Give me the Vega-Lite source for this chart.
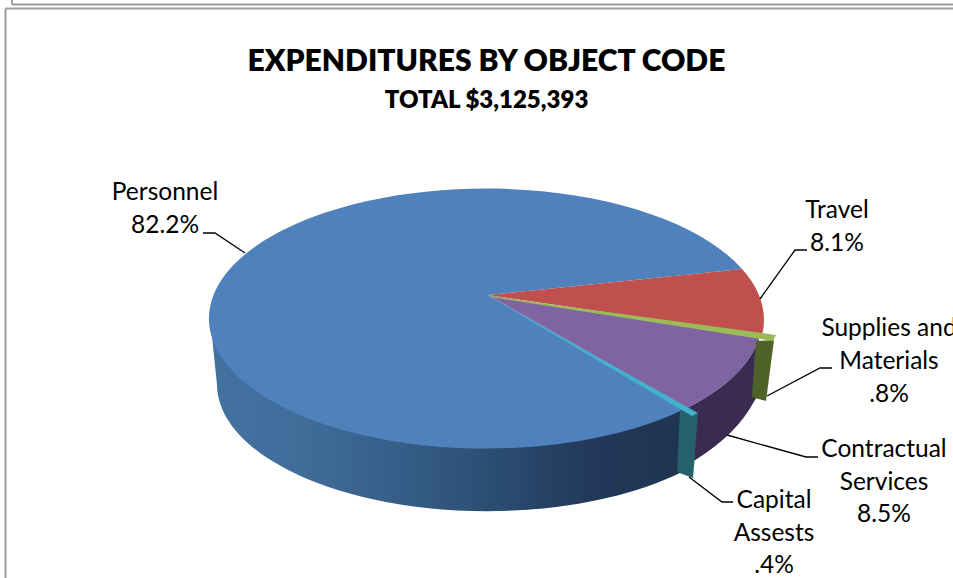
{
  "$schema": "https://vega.github.io/schema/vega-lite/v6.json",
  "width": 953,
  "height": 578,
  "padding": 0,
  "autosize": "none",
  "background": "#ffffff",
  "config": {"view": {"stroke": null}},
  "title": {
    "text": "EXPENDITURES BY OBJECT CODE",
    "subtitle": "TOTAL $3,125,393",
    "anchor": "middle",
    "frame": "group",
    "dx": 10,
    "offset": -114,
    "font": "Lato",
    "fontWeight": 800,
    "fontSize": 30,
    "color": "#000000",
    "subtitleFont": "Lato",
    "subtitleFontWeight": 800,
    "subtitleFontSize": 24,
    "subtitleColor": "#000000",
    "subtitlePadding": 12
  },
  "data": {
    "values": [
      {"category": "Personnel", "share": 82.2, "label": "Personnel\n82.2%"},
      {"category": "Travel", "share": 8.1, "label": "Travel\n8.1%"},
      {"category": "Contractual Services", "share": 8.5, "label": "Contractual\nServices\n8.5%"},
      {"category": "Supplies and Materials", "share": 0.8, "label": "Supplies and\nMaterials\n.8%"},
      {"category": "Capital Assests", "share": 0.4, "label": "Capital\nAssests\n.4%"}
    ]
  },
  "resolve": {"scale": {"shape": "independent", "color": "independent"}},
  "layer": [
    {
      "data": {"values": [{"edge": "inner box"}]},
      "mark": {"type": "rule", "stroke": "#9a9a9a", "strokeWidth": 1.8},
      "encoding": {
        "x": {"datum": 12, "type": "quantitative", "scale": {"domain": [0, 953], "nice": false, "zero": false}, "axis": null},
        "x2": {"datum": 953},
        "y": {"datum": 4.5, "type": "quantitative", "scale": {"domain": [578, 0], "nice": false, "zero": false}, "axis": null}
      }
    },
    {
      "data": {"values": [{"edge": "inner box side"}]},
      "mark": {"type": "rule", "stroke": "#9a9a9a", "strokeWidth": 1.8},
      "encoding": {
        "x": {"datum": 12, "type": "quantitative", "scale": {"domain": [0, 953], "nice": false, "zero": false}, "axis": null},
        "y": {"datum": 0, "type": "quantitative", "scale": {"domain": [578, 0], "nice": false, "zero": false}, "axis": null},
        "y2": {"datum": 4.5}
      }
    },
    {
      "data": {"values": [{"edge": "chart frame top"}]},
      "mark": {"type": "rule", "stroke": "#9a9a9a", "strokeWidth": 2},
      "encoding": {
        "x": {"datum": 5.5, "type": "quantitative", "scale": {"domain": [0, 953], "nice": false, "zero": false}, "axis": null},
        "x2": {"datum": 953},
        "y": {"datum": 8.5, "type": "quantitative", "scale": {"domain": [578, 0], "nice": false, "zero": false}, "axis": null}
      }
    },
    {
      "data": {"values": [{"edge": "chart frame left"}]},
      "mark": {"type": "rule", "stroke": "#9a9a9a", "strokeWidth": 2},
      "encoding": {
        "x": {"datum": 5.5, "type": "quantitative", "scale": {"domain": [0, 953], "nice": false, "zero": false}, "axis": null},
        "y": {"datum": 8.5, "type": "quantitative", "scale": {"domain": [578, 0], "nice": false, "zero": false}, "axis": null},
        "y2": {"datum": 578}
      }
    },
    {
      "transform": [{"filter": {"field": "category", "oneOf": ["Personnel"]}}],
      "mark": {
        "type": "point", "filled": true, "opacity": 1, "size": 4,
        "shape": "M-278 22 A277 130 0 0 0 197 113 L192 178 A270 127 0 0 1 -271 90 Z",
        "fill": {
          "gradient": "linear", "x1": 0, "y1": 0, "x2": 1, "y2": 0,
          "stops": [
            {"offset": 0, "color": "#44729f"},
            {"offset": 0.2, "color": "#406c9a"},
            {"offset": 0.45, "color": "#335a83"},
            {"offset": 0.6, "color": "#2b4d72"},
            {"offset": 0.8, "color": "#22395a"},
            {"offset": 1, "color": "#1f3450"}
          ]
        }
      },
      "encoding": {
        "x": {"datum": 488, "type": "quantitative", "scale": {"domain": [0, 953], "nice": false, "zero": false}, "axis": null},
        "y": {"datum": 295, "type": "quantitative", "scale": {"domain": [578, 0], "nice": false, "zero": false}, "axis": null}
      }
    },
    {
      "transform": [{"filter": {"field": "category", "oneOf": ["Contractual Services"]}}],
      "mark": {
        "type": "point", "filled": true, "opacity": 1, "size": 4,
        "shape": "M271 43 A277 130 0 0 1 199 113 L199 170 Q242 145 261 115 L270 100 Z",
        "fill": "#3b2b52"
      },
      "encoding": {
        "x": {"datum": 488, "type": "quantitative", "scale": {"domain": [0, 953], "nice": false, "zero": false}, "axis": null},
        "y": {"datum": 295, "type": "quantitative", "scale": {"domain": [578, 0], "nice": false, "zero": false}, "axis": null}
      }
    },
    {
      "transform": [{"filter": {"field": "category", "oneOf": ["Personnel", "Travel", "Contractual Services"]}}],
      "mark": {"type": "point", "filled": true, "opacity": 1, "size": 4},
      "encoding": {
        "x": {"datum": 488, "type": "quantitative", "scale": {"domain": [0, 953], "nice": false, "zero": false}, "axis": null},
        "y": {"datum": 295, "type": "quantitative", "scale": {"domain": [578, 0], "nice": false, "zero": false}, "axis": null},
        "shape": {
          "field": "category", "type": "nominal", "legend": null,
          "scale": {
            "domain": ["Personnel", "Travel", "Contractual Services"],
            "range": [
              "M0 0 L254 -26 A277 130 0 1 0 199 113 Z",
              "M0 0 L254 -26 A277 130 0 0 1 274 40 Z",
              "M0 0 L271 43 A277 130 0 0 1 199 113 Z"
            ]
          }
        },
        "color": {
          "field": "category", "type": "nominal", "legend": null,
          "scale": {
            "domain": ["Personnel", "Travel", "Contractual Services"],
            "range": ["#4f81bd", "#c0504d", "#8064a2"]
          }
        }
      }
    },
    {
      "transform": [{"filter": {"field": "category", "oneOf": ["Supplies and Materials"]}}],
      "mark": {
        "type": "point", "filled": true, "opacity": 1, "size": 4,
        "shape": "M268 46 L286 45 L278 106 L264 102 Z",
        "fill": "#4f6228"
      },
      "encoding": {
        "x": {"datum": 488, "type": "quantitative", "scale": {"domain": [0, 953], "nice": false, "zero": false}, "axis": null},
        "y": {"datum": 295, "type": "quantitative", "scale": {"domain": [578, 0], "nice": false, "zero": false}, "axis": null}
      }
    },
    {
      "transform": [{"filter": {"field": "category", "oneOf": ["Capital Assests"]}}],
      "mark": {
        "type": "point", "filled": true, "opacity": 1, "size": 4,
        "shape": "M192 115 L210 119 L205 183 L189 177 Z",
        "fill": "#24616b"
      },
      "encoding": {
        "x": {"datum": 488, "type": "quantitative", "scale": {"domain": [0, 953], "nice": false, "zero": false}, "axis": null},
        "y": {"datum": 295, "type": "quantitative", "scale": {"domain": [578, 0], "nice": false, "zero": false}, "axis": null}
      }
    },
    {
      "transform": [{"filter": {"field": "category", "oneOf": ["Supplies and Materials", "Capital Assests"]}}],
      "mark": {"type": "point", "filled": true, "opacity": 1, "size": 4},
      "encoding": {
        "x": {"datum": 488, "type": "quantitative", "scale": {"domain": [0, 953], "nice": false, "zero": false}, "axis": null},
        "y": {"datum": 295, "type": "quantitative", "scale": {"domain": [578, 0], "nice": false, "zero": false}, "axis": null},
        "shape": {
          "field": "category", "type": "nominal", "legend": null,
          "scale": {
            "domain": ["Supplies and Materials", "Capital Assests"],
            "range": ["M2 1 L288 40 L285 46 L2 2 Z", "M0 1 L210 118 L204 121 Z"]
          }
        },
        "color": {
          "field": "category", "type": "nominal", "legend": null,
          "scale": {
            "domain": ["Supplies and Materials", "Capital Assests"],
            "range": ["#9bbb59", "#42b1cb"]
          }
        }
      }
    },
    {
      "mark": {"type": "point", "filled": false, "opacity": 1, "size": 4, "strokeWidth": 1.3, "stroke": "#000000", "fill": null},
      "encoding": {
        "x": {"datum": 488, "type": "quantitative", "scale": {"domain": [0, 953], "nice": false, "zero": false}, "axis": null},
        "y": {"datum": 295, "type": "quantitative", "scale": {"domain": [578, 0], "nice": false, "zero": false}, "axis": null},
        "shape": {
          "field": "category", "type": "nominal", "legend": null,
          "scale": {
            "domain": ["Personnel", "Travel", "Contractual Services", "Supplies and Materials", "Capital Assests"],
            "range": [
              "M-285 -62 L-273 -62 L-243 -42",
              "M319 -45 L307 -45 L272 4",
              "M330 162 L318 162 L239 140",
              "M344 73 L332 73 L279 101",
              "M245 207 L234 207 L201 182"
            ]
          }
        }
      }
    },
    {
      "transform": [{"filter": {"field": "category", "oneOf": ["Personnel"]}}],
      "mark": {"type": "text", "font": "Lato", "fontSize": 24.5, "lineHeight": 33, "lineBreak": "\n", "align": "center", "baseline": "alphabetic", "color": "#000000"},
      "encoding": {
        "x": {"datum": 165, "type": "quantitative", "scale": {"domain": [0, 953], "nice": false, "zero": false}, "axis": null},
        "y": {"datum": 200, "type": "quantitative", "scale": {"domain": [578, 0], "nice": false, "zero": false}, "axis": null},
        "text": {"field": "label"}
      }
    },
    {
      "transform": [{"filter": {"field": "category", "oneOf": ["Travel"]}}],
      "mark": {"type": "text", "font": "Lato", "fontSize": 24.5, "lineHeight": 33, "lineBreak": "\n", "align": "center", "baseline": "alphabetic", "color": "#000000"},
      "encoding": {
        "x": {"datum": 837, "type": "quantitative", "scale": {"domain": [0, 953], "nice": false, "zero": false}, "axis": null},
        "y": {"datum": 218, "type": "quantitative", "scale": {"domain": [578, 0], "nice": false, "zero": false}, "axis": null},
        "text": {"field": "label"}
      }
    },
    {
      "transform": [{"filter": {"field": "category", "oneOf": ["Supplies and Materials"]}}],
      "mark": {"type": "text", "font": "Lato", "fontSize": 24.5, "lineHeight": 33, "lineBreak": "\n", "align": "center", "baseline": "alphabetic", "color": "#000000"},
      "encoding": {
        "x": {"datum": 889, "type": "quantitative", "scale": {"domain": [0, 953], "nice": false, "zero": false}, "axis": null},
        "y": {"datum": 336, "type": "quantitative", "scale": {"domain": [578, 0], "nice": false, "zero": false}, "axis": null},
        "text": {"field": "label"}
      }
    },
    {
      "transform": [{"filter": {"field": "category", "oneOf": ["Contractual Services"]}}],
      "mark": {"type": "text", "font": "Lato", "fontSize": 24.5, "lineHeight": 32.5, "lineBreak": "\n", "align": "center", "baseline": "alphabetic", "color": "#000000"},
      "encoding": {
        "x": {"datum": 884, "type": "quantitative", "scale": {"domain": [0, 953], "nice": false, "zero": false}, "axis": null},
        "y": {"datum": 457, "type": "quantitative", "scale": {"domain": [578, 0], "nice": false, "zero": false}, "axis": null},
        "text": {"field": "label"}
      }
    },
    {
      "transform": [{"filter": {"field": "category", "oneOf": ["Capital Assests"]}}],
      "mark": {"type": "text", "font": "Lato", "fontSize": 24.5, "lineHeight": 32.5, "lineBreak": "\n", "align": "center", "baseline": "alphabetic", "color": "#000000"},
      "encoding": {
        "x": {"datum": 774, "type": "quantitative", "scale": {"domain": [0, 953], "nice": false, "zero": false}, "axis": null},
        "y": {"datum": 508, "type": "quantitative", "scale": {"domain": [578, 0], "nice": false, "zero": false}, "axis": null},
        "text": {"field": "label"}
      }
    }
  ]
}
